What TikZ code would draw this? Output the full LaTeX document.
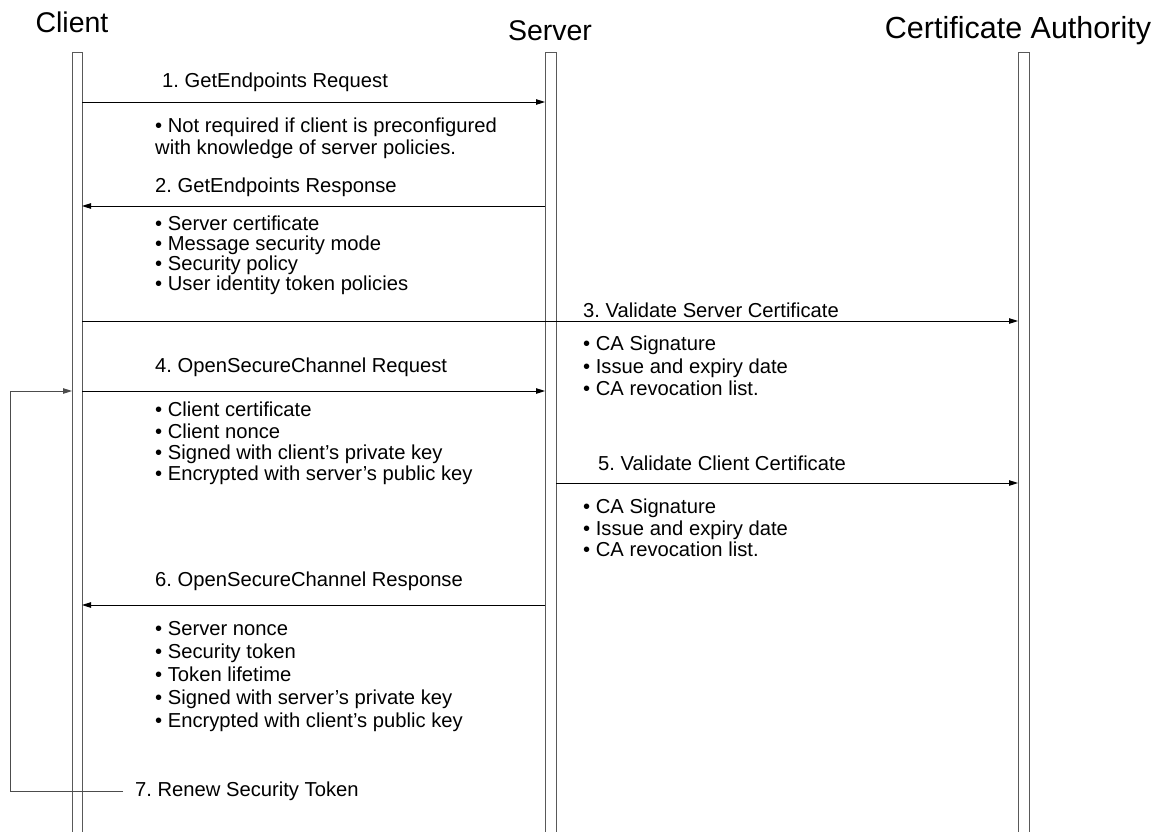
\documentclass[tikz,border=0pt]{standalone}
\usepackage{fontspec}
\setmainfont{Liberation Sans}
\usetikzlibrary{arrows.meta}
\frenchspacing

\tikzset{
  head/.style={font=\fontsize{28.5}{30}\selectfont},
  msg/.style={anchor=west,inner sep=0pt,font=\fontsize{20.2}{22}\selectfont},
  note/.style={anchor=north west,inner sep=0pt,align=left,font=\fontsize{20.2}{21.2}\selectfont},
  wide/.style={font=\fontsize{20.2}{23}\selectfont},
  life/.style={draw=black!65,line width=1pt},
  call/.style={->,line width=0.9pt}
}

\begin{document}
\begin{tikzpicture}[x=1pt,y=-1pt,>={Triangle[length=9pt,width=5.5pt]}]
 \useasboundingbox (0,0) rectangle (1163,831);
 % lifelines
 \node[head] (hclient) at (72,22) {Client};
 \node[head] (hserver) at (550,31) {Server};
 \node[head,font=\fontsize{30.5}{32}\selectfont] (hca) at (1018,31) {Certificate Authority};
 \draw[life] (72,52) rectangle (82,835);
 \draw[life] (545,52) rectangle (556,835);
 \draw[life] (1018,52) rectangle (1029,835);
 % end points on the lifelines
 \coordinate (c1) at (82,102);  \coordinate (s1) at (545,102);
 \coordinate (s2) at (545,206); \coordinate (c2) at (82,206);
 \coordinate (c3) at (82,321);  \coordinate (a3) at (1018,321);
 \coordinate (c4) at (82,391);  \coordinate (s4) at (545,391);
 \coordinate (s5) at (556,483); \coordinate (a5) at (1018,483);
 \coordinate (s6) at (545,605); \coordinate (c6) at (82,605);
 \coordinate (r0) at (123,791); \coordinate (r1) at (10,791);
 \coordinate (r2) at (10,391);  \coordinate (r3) at (72,391);
 % messages
 \node[msg] (m1) at (162,82) {1. GetEndpoints Request};
 \draw[call] (c1) -- (s1);
 \node[note] (n1) at (155,118) {• Not required if client is preconfigured\\with knowledge of server policies.};
 \node[msg] (m2) at (155,187) {2. GetEndpoints Response};
 \draw[call] (s2) -- (c2);
 \node[note,font=\fontsize{20.2}{20}\selectfont] (n2) at (155,216) {• Server certificate\\• Message security mode\\• Security policy\\• User identity token policies};
 \node[msg] (m3) at (583,310) {3. Validate Server Certificate};
 \draw[call] (c3) -- (a3);
 \node[note,font=\fontsize{20.2}{22.5}\selectfont] (n3) at (583,336) {• CA Signature\\• Issue and expiry date\\• CA revocation list.};
 \node[msg] (m4) at (155,367) {4. OpenSecureChannel Request};
 \draw[call] (c4) -- (s4);
 \node[note] (n4) at (155,402) {• Client certificate\\• Client nonce\\• Signed with client’s private key\\• Encrypted with server’s public key};
 \node[msg] (m5) at (598,463) {5. Validate Client Certificate};
 \draw[call] (s5) -- (a5);
 \node[note] (n5) at (583,499) {• CA Signature\\• Issue and expiry date\\• CA revocation list.};
 \node[msg] (m6) at (155,581) {6. OpenSecureChannel Response};
 \draw[call] (s6) -- (c6);
 \node[note,wide] (n6) at (155,621) {• Server nonce\\• Security token\\• Token lifetime\\• Signed with server’s private key\\• Encrypted with client’s public key};
 % renewal loop
 \node[msg] (m7) at (135,791) {7. Renew Security Token};
 \draw[call,draw=black!70] (r0) -- (r1) -- (r2) -- (r3);
\end{tikzpicture}
\end{document}
